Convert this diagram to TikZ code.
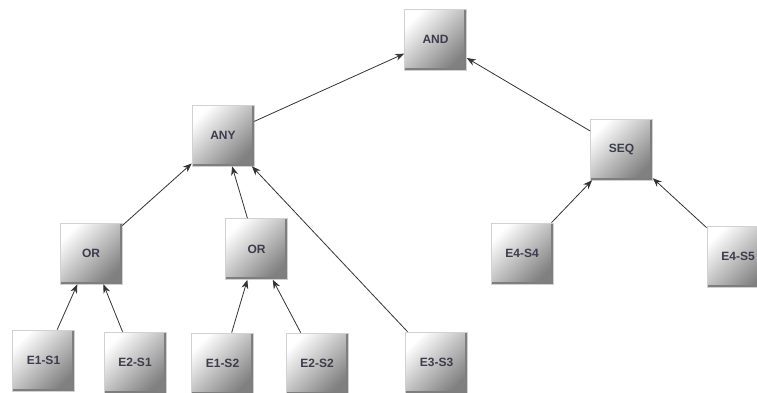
\documentclass[tikz,border=0pt]{standalone}
\usepackage{fontspec}
\setmainfont{Liberation Sans}
\usetikzlibrary{arrows.meta}
\definecolor{txtc}{HTML}{3C3C4C}
\definecolor{edgec}{HTML}{333333}
\definecolor{rimc}{HTML}{7E7E7E}
\tikzset{
  opbox/.style={rectangle, minimum width=62pt, minimum height=61pt, inner sep=0pt,
    top color=white, bottom color=black!50, shading angle=45,
    draw=black!18, line width=0.6pt,
    font=\bfseries\fontsize{12}{14}\selectfont, text=txtc,
    path picture={\draw[rimc, line width=5pt]
      (path picture bounding box.north east) -- (path picture bounding box.south east)
      -- (path picture bounding box.south west);}},
  link/.style={draw=edgec, line width=0.8pt, -{Stealth[length=9pt,width=7pt]}}
}
\begin{document}
\begin{tikzpicture}[x=1pt,y=-1pt]
\useasboundingbox (0,0) rectangle (757,392);
\clip (0,0) rectangle (757,392);
\node[opbox] (and) at (435.5,39.5) {AND};
\node[opbox] (any) at (223,135.5) {ANY};
\node[opbox] (seq) at (621.5,149.5) {SEQ};
\node[opbox] (or1) at (91,253.5) {OR};
\node[opbox] (or2) at (256.5,249) {OR};
\node[opbox] (e4s4) at (522,253.5) {E4-S4};
\node[opbox] (e4s5) at (738,256.5) {E4-S5};
\node[opbox] (e1s1) at (43.5,360.5) {E1-S1};
\node[opbox] (e2s1) at (135,362.5) {E2-S1};
\node[opbox] (e1s2) at (222.5,363.5) {E1-S2};
\node[opbox] (e2s2) at (317,363.5) {E2-S2};
\node[opbox] (e3s3) at (436.5,362.5) {E3-S3};
\draw[link] (any) -- (and);
\draw[link] (seq) -- (and);
\draw[link] (or1) -- (any);
\draw[link] (or2) -- (any);
\draw[link] (e3s3) -- (any);
\draw[link] (e4s4) -- (seq);
\draw[link] (e4s5) -- (seq);
\draw[link] (e1s1) -- (or1);
\draw[link] (e2s1) -- (or1);
\draw[link] (e1s2) -- (or2);
\draw[link] (e2s2) -- (or2);
\end{tikzpicture}
\end{document}
